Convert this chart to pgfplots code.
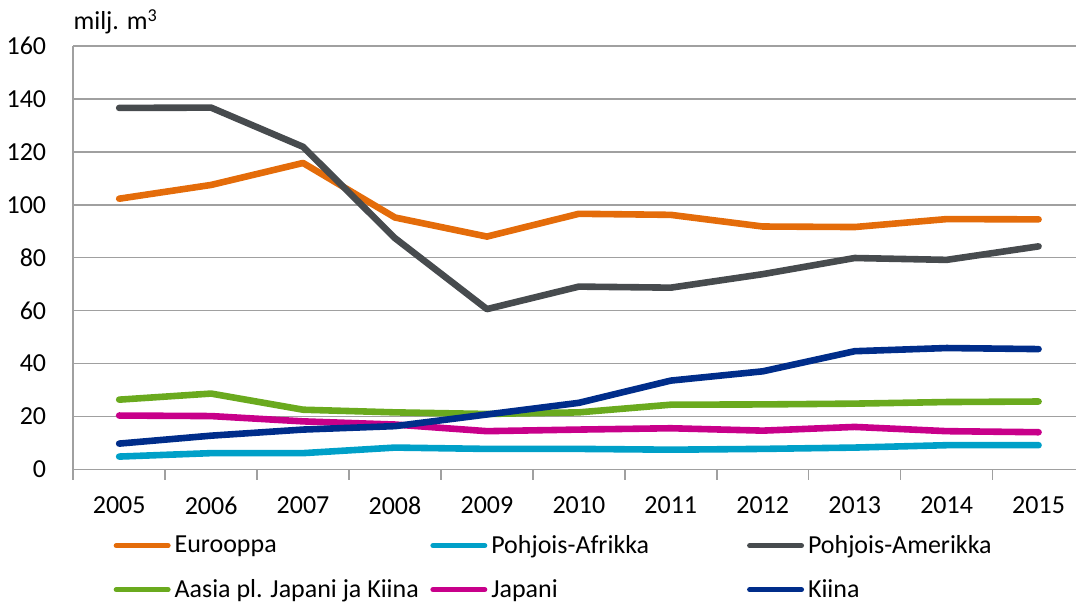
\documentclass[border=0pt]{standalone}
\usepackage{fontspec}
\setmainfont{Carlito}
\usepackage{pgfplots}
\pgfplotsset{compat=1.18}

\definecolor{cEur}{HTML}{E46C0A}
\definecolor{cPAf}{HTML}{00A0C8}
\definecolor{cPAm}{HTML}{474B4E}
\definecolor{cAas}{HTML}{6AAA1E}
\definecolor{cJap}{HTML}{C8008A}
\definecolor{cKii}{HTML}{002D8A}
\definecolor{cGrid}{HTML}{A0A0A0}

\begin{document}
\begin{tikzpicture}
\begin{axis}[
    scale only axis,
    width=502pt, height=212pt,
    clip mode=individual,
    xmin=-0.5, xmax=10.41,
    ymin=0, ymax=160,
    ytick={0,20,...,160},
    axis x line=bottom, axis y line=left,
    axis line style={cGrid, line width=0.75pt, -},
    ymajorgrids,
    grid style={cGrid, line width=0.75pt},
    xtick={-0.5,0.5,...,9.5},
    xticklabels={},
    tick align=outside,
    major tick length=5pt,
    xtick style={cGrid, line width=0.75pt},
    ytick style={draw=none},
    extra x ticks={0,1,...,10},
    extra x tick labels={2005,2006,2007,2008,2009,2010,2011,2012,2013,2014,2015},
    extra x tick style={major tick length=0pt, xmajorgrids=false},
    /pgf/number format/assume math mode=true,
    /pgf/number format/set thousands separator={},
    tick label style={font=\fontsize{13}{15}\selectfont},
    xticklabel style={yshift=-10pt},
    yticklabel style={xshift=-5pt},
    every axis plot/.append style={line width=3.3pt, line cap=round, line join=round},
    legend columns=3,
    legend cell align=left,
    legend style={draw=none, at={(0.034,-0.135)}, anchor=north west,
        font=\fontsize{13}{15}\selectfont, row sep=7.5pt,
        /tikz/every even column/.append style={column sep=0pt}},
    legend image code/.code={\draw[#1, line width=2.5pt] (0pt,0pt) -- (26pt,0pt);},
]
\addplot[cEur] coordinates {(0,102.3) (1,107.5) (2,115.8) (3,95.2) (4,88.0) (5,96.6) (6,96.2) (7,91.8) (8,91.6) (9,94.6) (10,94.5)};
\addlegendentry{\makebox[126pt][l]{Eurooppa}}
\addplot[cPAf] coordinates {(0,4.9) (1,6.2) (2,6.2) (3,8.3) (4,7.8) (5,7.8) (6,7.5) (7,7.8) (8,8.3) (9,9.2) (10,9.2)};
\addlegendentry{\makebox[126pt][l]{Pohjois-Afrikka}}
\addplot[cPAm] coordinates {(0,136.6) (1,136.7) (2,121.9) (3,87.4) (4,60.6) (5,69.1) (6,68.7) (7,73.8) (8,79.9) (9,79.2) (10,84.3)};
\addlegendentry{Pohjois-Amerikka}
\addplot[cAas] coordinates {(0,26.4) (1,28.7) (2,22.6) (3,21.6) (4,21.0) (5,21.6) (6,24.5) (7,24.6) (8,24.9) (9,25.5) (10,25.7)};
\addlegendentry{\makebox[126pt][l]{Aasia pl. Japani ja Kiina}}
\addplot[cJap] coordinates {(0,20.4) (1,20.2) (2,18.2) (3,17.0) (4,14.5) (5,15.1) (6,15.6) (7,14.7) (8,16.1) (9,14.5) (10,14.1)};
\addlegendentry{\makebox[126pt][l]{Japani}}
\addplot[cKii] coordinates {(0,9.8) (1,12.8) (2,15.1) (3,16.4) (4,20.8) (5,25.2) (6,33.6) (7,37.1) (8,44.7) (9,45.9) (10,45.5)};
\addlegendentry{Kiina}
\node[anchor=base west, font=\fontsize{13}{15}\selectfont, inner sep=0pt] at (rel axis cs:0,1) [yshift=8pt] {milj. m\textsuperscript{3}};
\path (rel axis cs:0,1) ++(0,23pt) coordinate (topmargin);
\end{axis}
\end{tikzpicture}
\end{document}
